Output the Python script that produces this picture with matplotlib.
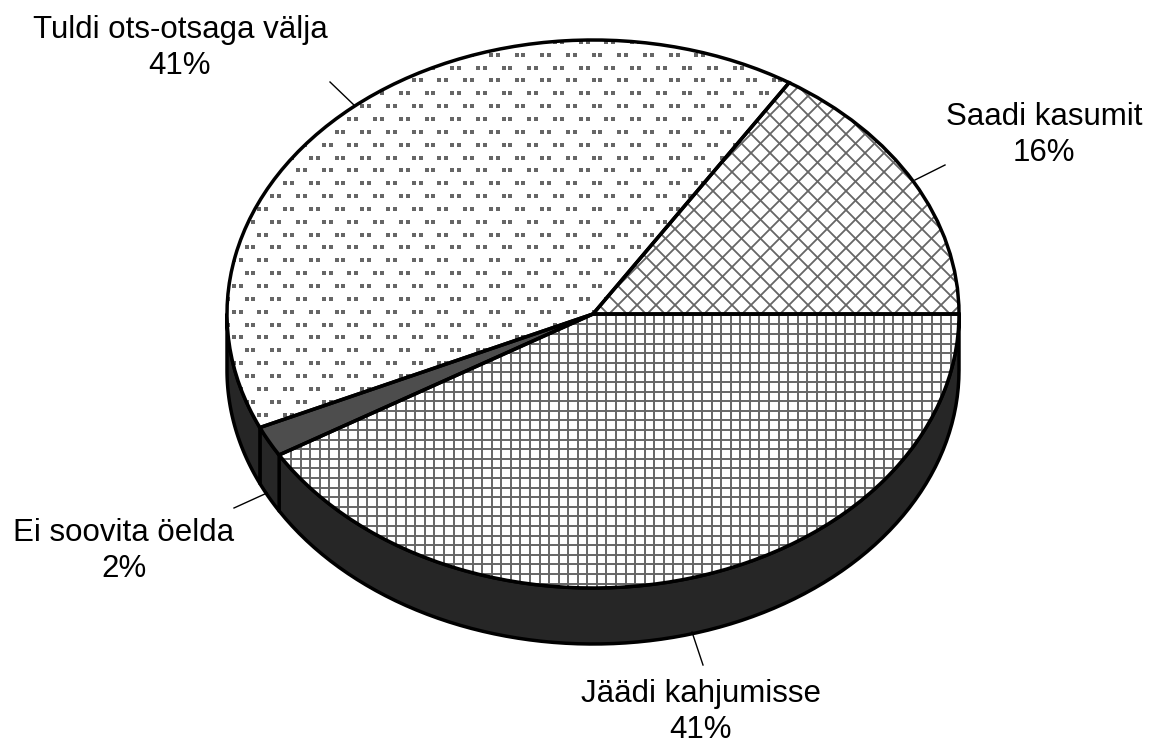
import numpy as np
import matplotlib
matplotlib.use('Agg')
import matplotlib.pyplot as plt

plt.rcParams['font.family'] = ['Liberation Sans', 'DejaVu Sans']

# slices, clockwise from 3 o'clock
labels = ['Jäädi kahjumisse', 'Ei soovita öelda', 'Tuldi ots-otsaga välja', 'Saadi kasumit']
shown = ['41%', '2%', '41%', '16%']
shares = [41.4, 1.8, 40.8, 16.0]

# picture size and pie geometry, in pixels
W, H = 1150, 743
cx, cy, rx, ry, depth = 593, 314, 366, 274, 56
GREY = '#666666'
SIDE = '#262626'
EDGE = 2.5


def X(px):
    return (np.asarray(px, dtype=float) - cx) / rx


def Y(py):
    return (cy - np.asarray(py, dtype=float)) / ry


fig = plt.figure(figsize=(W / 100, H / 100), dpi=100)
ax = fig.add_axes([0, 0, 1, 1])

# side wall, only the front half shows
d = depth / ry
edges = np.cumsum([0] + shares) / sum(shares) * 2 * np.pi
for i in range(len(shares)):
    a0, a1 = edges[i], min(edges[i + 1], np.pi)
    if a0 >= np.pi:
        continue
    t = np.linspace(a0, a1, 80)
    xs = np.r_[np.cos(t), np.cos(t[::-1])]
    ys = np.r_[-np.sin(t), -np.sin(t[::-1]) - d]
    ax.fill(xs, ys, facecolor=SIDE, edgecolor='black', lw=EDGE, joinstyle='round', zorder=1)

# top face
wedges, _ = ax.pie(shares, startangle=0, counterclock=False, radius=1,
                   colors=['white', '#4d4d4d', 'white', 'white'],
                   wedgeprops=dict(linewidth=0, zorder=2))

# pattern of the loss slice: square grid
gx = 644.7 + 9.56 * np.arange(-45, 35)
gy = 324.3 + 9.6 * np.arange(-2, 32)
a = ax.vlines(X(gx), Y(300), Y(600), colors=GREY, lw=1.4, zorder=3)
b = ax.hlines(Y(gy), X(220), X(970), colors=GREY, lw=1.4, zorder=3)
a.set_clip_path(wedges[0])
b.set_clip_path(wedges[0])

# pattern of the profit slice: diagonal cross
for k in np.arange(-60, 90):
    for sign in (1, -1):
        x0 = 656 + 19.0 * k
        xx = np.array([560.0, 1000.0])
        yy = 305 + sign * (xx - x0)
        ln, = ax.plot(X(xx), Y(yy), color=GREY, lw=1.3, zorder=3)
        ln.set_clip_path(wedges[3])

# pattern of the even slice: pairs of dots in staggered rows
px, py = [], []
for r in np.arange(-24, 12):
    off = 12.85 * (r % 2)
    for c in np.arange(-1, 24):
        x0 = 233.8 + off + 25.7 * c
        y0 = 311.7 + 12.85 * r
        px += [x0, x0 + 6.8]
        py += [y0, y0]
dots = ax.scatter(X(px), Y(py), s=4.7, marker='s', color=GREY, linewidths=0, zorder=3)
dots.set_clip_path(wedges[2])

# outlines on top of the patterns
ax.pie(shares, startangle=0, counterclock=False, radius=1,
       wedgeprops=dict(fill=False, edgecolor='black', linewidth=EDGE, zorder=4))

# leader lines
leaders = [((692, 632), (703, 665)), ((267, 493), (234, 508)),
           ((355, 106), (330, 82)), ((915, 180), (945, 165))]
for (x0, y0), (x1, y1) in leaders:
    ax.plot(X([x0, x1]), Y([y0, y1]), color='black', lw=1.0, zorder=1)

# labels
pos = [(701, 712), (124, 551), (180, 48), (1044, 135)]
for name, pct, (x0, y0) in zip(labels, shown, pos):
    ax.text(X(x0), Y(y0), name + '\n' + pct, ha='center', va='center',
            fontsize=22.5, color='black', linespacing=1.28)

ax.set_aspect('auto')
ax.set_xlim(X(0), X(W))
ax.set_ylim(Y(H), Y(0))
ax.axis('off')
fig.savefig('out.png', dpi=100, facecolor='white')
